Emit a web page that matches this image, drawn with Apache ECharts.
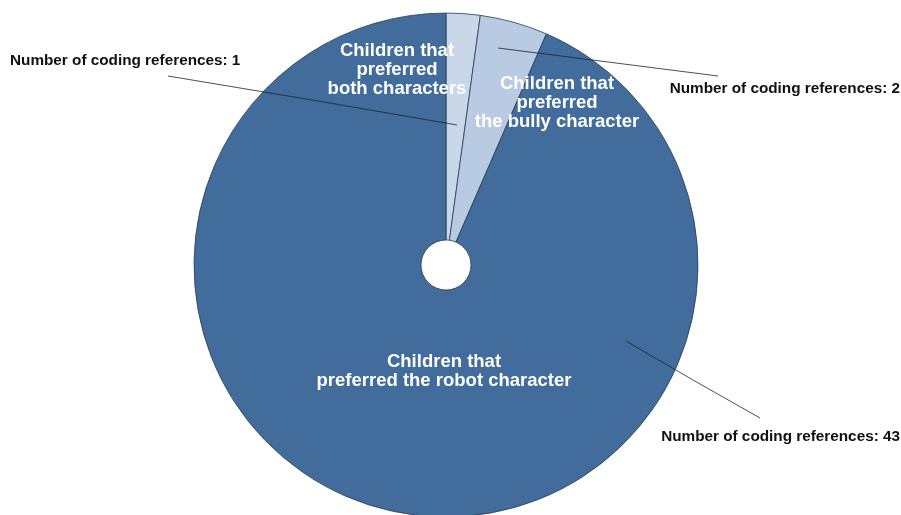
<!DOCTYPE html>
<html>
<head>
<meta charset="utf-8">
<script src="https://cdn.jsdelivr.net/npm/echarts@6/dist/echarts.min.js"></script>
<style>
  html, body { margin: 0; padding: 0; background: #ffffff; }
  #chart { width: 901px; height: 515px; }
</style>
</head>
<body>
<div id="chart"></div>
<script>
// Coded interview responses: which character the children preferred
const categories = [
  'Children that\npreferred\nboth characters',
  'Children that\npreferred\nthe bully character',
  'Children that\npreferred the robot character'
];
const codingReferences = [1, 2, 43];
const sliceColors = ['#c9d7e9', '#b8cbe2', '#416c9b'];

// Where each category name sits, and where each count callout sits with its leader line
const nameSpots = [[397, 70], [557, 103], [444, 371]];
const countSpots = [
  { x: 10, y: 61, align: 'left', line: [[457, 125], [312, 100], [168, 76]] },
  { x: 900, y: 89, align: 'right', line: [[498, 48], [608, 62], [718, 76]] },
  { x: 900, y: 437, align: 'right', line: [[626, 341], [693, 380], [760, 418]] }
];

const pieData = categories.map((name, i) => ({
  name: name,
  value: codingReferences[i],
  itemStyle: { color: sliceColors[i] }
}));

const center = [446, 265];
const radius = [25, 252];

const chart = echarts.init(document.getElementById('chart'), null, { renderer: 'canvas' });
chart.setOption({
  animation: false,
  backgroundColor: '#ffffff',
  series: [
    {
      name: 'slices',
      type: 'pie',
      center: center,
      radius: radius,
      startAngle: 90,
      clockwise: true,
      avoidLabelOverlap: false,
      silent: true,
      data: pieData,
      itemStyle: { borderColor: '#2b3d52', borderWidth: 0.8 },
      label: {
        show: true,
        position: 'inside',
        formatter: '{b}',
        color: '#ffffff',
        fontFamily: 'Liberation Sans, Arial, sans-serif',
        fontWeight: 'bold',
        fontSize: 18.5,
        lineHeight: 19,
        align: 'center'
      },
      labelLine: { show: false },
      labelLayout: function (p) {
        const s = nameSpots[p.dataIndex];
        return { x: s[0], y: s[1], align: 'center', verticalAlign: 'middle' };
      }
    },
    {
      name: 'counts',
      type: 'pie',
      center: center,
      radius: radius,
      startAngle: 90,
      clockwise: true,
      avoidLabelOverlap: false,
      silent: true,
      z: 5,
      data: codingReferences.map((v, i) => ({ name: categories[i], value: v })),
      itemStyle: { color: 'rgba(0,0,0,0)', borderWidth: 0 },
      label: {
        show: true,
        position: 'outside',
        formatter: 'Number of coding references: {c}',
        color: '#111111',
        fontFamily: 'Liberation Sans, Arial, sans-serif',
        fontWeight: 'bold',
        fontSize: 15.3
      },
      labelLine: {
        show: true,
        lineStyle: { color: '#222222', width: 0.8 }
      },
      labelLayout: function (p) {
        const s = countSpots[p.dataIndex];
        return {
          x: s.x,
          y: s.y,
          align: s.align,
          verticalAlign: 'middle',
          labelLinePoints: s.line
        };
      }
    }
  ]
});
</script>
</body>
</html>
